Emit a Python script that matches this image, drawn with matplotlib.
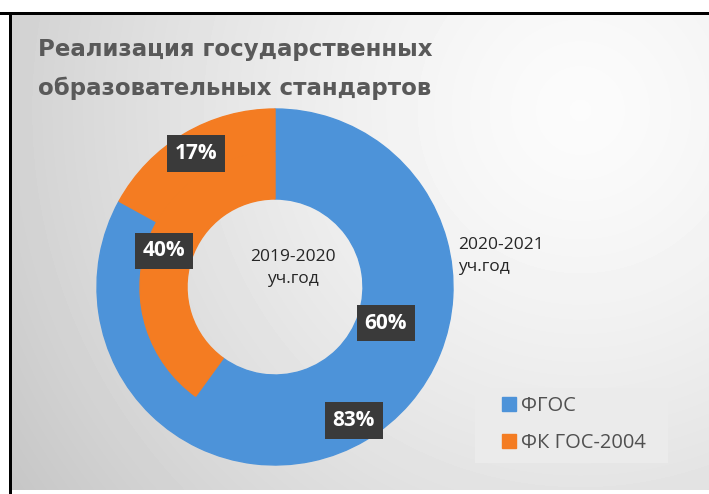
import numpy as np
import matplotlib.pyplot as plt
from matplotlib.patches import Rectangle

# data
categories = ['ФГОС', 'ФК ГОС-2004']
outer_vals = [83, 17]   # 2020-2021 уч.год
inner_vals = [60, 40]   # 2019-2020 уч.год
colors = ['#4d93d9', '#f47c22']

W, H = 709, 494
fig = plt.figure(figsize=(W / 100, H / 100), dpi=100)
fig.patch.set_facecolor('white')

# gray gradient background
bg = fig.add_axes([12 / W, 4 / H, 1 - 12 / W, (H - 15 - 4) / H])
xx, yy = np.meshgrid(np.arange(12, W), np.arange(15, H - 4))
d = np.hypot(xx - 580, yy - 110)
img = 0.985 - 0.19 * (d / 640) ** 1.4
bg.imshow(img, cmap='gray', vmin=0, vmax=1, aspect='auto', interpolation='bilinear')
bg.axis('off')

# black frame lines (top and left)
fig.patches.append(Rectangle((0, (H - 15) / H), 1, 3 / H, transform=fig.transFigure,
                             facecolor='black', edgecolor='none', zorder=5))
fig.patches.append(Rectangle((9 / W, 0), 3 / W, (H - 12) / H, transform=fig.transFigure,
                             facecolor='black', edgecolor='none', zorder=5))

# donut axes: centre (275, 287) px, radius 178 px
cx, cy, R = 275, 287, 178
ax = fig.add_axes([(cx - R) / W, (H - cy - R) / H, 2 * R / W, 2 * R / H])
ax.patch.set_alpha(0)

r_in = 135 / R
outer, _ = ax.pie(outer_vals, radius=1, colors=colors, startangle=90, counterclock=False,
                  wedgeprops=dict(width=1 - r_in))
inner, _ = ax.pie(inner_vals, radius=r_in, colors=colors, startangle=90, counterclock=False,
                  wedgeprops=dict(width=r_in - 88 / R))
for w in outer + inner:
    w.set_edgecolor(w.get_facecolor())
    w.set_linewidth(1.0)
ax.set_xlim(-1, 1)
ax.set_ylim(-1, 1)

def put_labels(wedges, vals, r):
    for w, v in zip(wedges, vals):
        a = np.deg2rad((w.theta1 + w.theta2) / 2)
        ax.text(r * np.cos(a), r * np.sin(a), '{}%'.format(v), ha='center', va='center',
                fontsize=15, fontweight='bold', color='white', family='Open Sans',
                bbox=dict(boxstyle='square,pad=0.38', facecolor='#3a3a3a', edgecolor='none'))

put_labels(outer, outer_vals, 0.87)
put_labels(inner, inner_vals, 0.655)

ax.text(0.10, 0.107, '2019-2020\nуч.год', ha='center', va='center', fontsize=12.5,
        color='#262626', family='Open Sans', linespacing=1.5)
ax.text(1.03, 0.175, '2020-2021\nуч.год', ha='left', va='center', fontsize=12.5,
        color='#262626', family='Open Sans', linespacing=1.5, clip_on=False)

# title
fig.text(38 / W, 1 - 69 / H, 'Реализация государственных\nобразовательных стандартов',
         ha='left', va='center', fontsize=16.5, fontweight='bold', color='#595959',
         family='DejaVu Sans', linespacing=1.8)

# legend box
fig.patches.append(Rectangle((475 / W, 1 - 463 / H), 193 / W, 75 / H, transform=fig.transFigure,
                             facecolor='#ebebeb', edgecolor='none', zorder=1))
leg = fig.legend(outer, categories, loc='upper left', bbox_to_anchor=(496 / W, 1 - 390 / H),
                 frameon=False, prop={'family': 'Open Sans', 'size': 14.5},
                 handlelength=0.7, handleheight=0.7, handletextpad=0.25,
                 labelspacing=0.85, borderpad=0.3, borderaxespad=0)
for t in leg.get_texts():
    t.set_color('#505050')

fig.savefig('out.png', dpi=100)
